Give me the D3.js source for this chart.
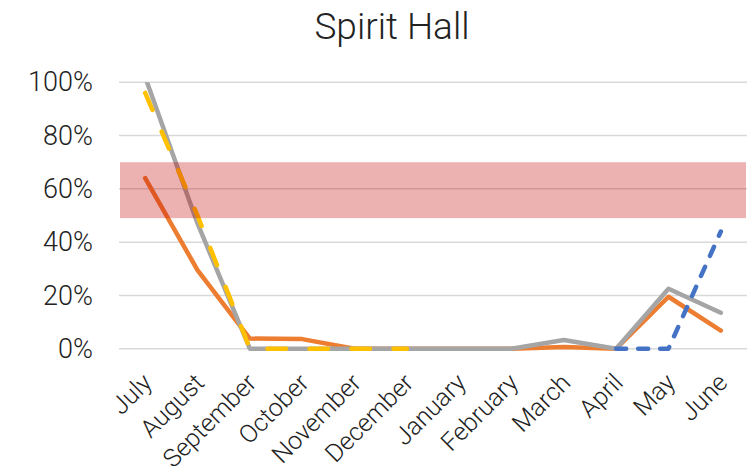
<!DOCTYPE html>
<html>
<head>
<meta charset="utf-8">
<script src="https://cdn.jsdelivr.net/npm/d3@7"></script>
<style>
  html, body { margin: 0; padding: 0; background: #fff; }
  svg { display: block; font-family: Roboto, "Noto Sans", sans-serif; }
</style>
</head>
<body>
<svg id="chart" width="756" height="474"></svg>
<script>
const title = "Spirit Hall";
const categories = ["July","August","September","October","November","December","January","February","March","April","May","June"];
const yTicks = [0, 0.2, 0.4, 0.6, 0.8, 1.0];
const bandLow = 0.49;
const bandHigh = 0.70;
// series (null = no point)
const seriesOrange = [0.64, 0.295, 0.038, 0.036, 0, 0, 0, 0, 0.006, 0, 0.195, 0.068];
const seriesGray   = [1.02, 0.47, 0, 0, 0, 0, 0, 0, 0.033, 0, 0.225, 0.135];
const seriesYellow = [0.96, 0.50, 0, 0, 0, 0, null, null, null, null, null, null];
const seriesBlue   = [null, null, null, null, null, null, null, null, null, 0, 0, 0.44];

const svg = d3.select("#chart");
const pLeft = 119, pRight = 747, pTop = 82.3, pBottom = 348.7;

const xb = d3.scaleBand().domain(categories).range([pLeft, pRight]);
const xc = c => xb(c) + xb.bandwidth() / 2;
const y = d3.scaleLinear().domain([0, 1]).range([pBottom, pTop]);

// title
svg.append("text")
  .attr("x", 392).attr("y", 39)
  .attr("text-anchor", "middle")
  .attr("font-size", 37).attr("font-weight", 300).attr("fill", "#222")
  .text(title);

// gridlines
svg.append("g").selectAll("line").data(yTicks).join("line")
  .attr("x1", pLeft).attr("x2", pRight)
  .attr("y1", d => y(d)).attr("y2", d => y(d))
  .attr("stroke", "#d9d9d9").attr("stroke-width", 1.5);

// y axis labels
const yAxis = d3.axisLeft(y).tickValues(yTicks).tickFormat(d3.format(".0%")).tickSize(0).tickPadding(0);
const gy = svg.append("g").attr("transform", `translate(93,0)`).call(yAxis);
gy.select(".domain").remove();
gy.selectAll("text").attr("font-size", 27).attr("font-weight", 300).attr("fill", "#222")
  .attr("font-family", "Roboto, sans-serif");

// x axis labels
const gx = svg.append("g");
gx.selectAll("text").data(categories).join("text")
  .attr("transform", d => `translate(${xc(d) + 2},378) rotate(-45)`)
  .attr("text-anchor", "end").attr("dy", "0.35em")
  .attr("font-size", 25).attr("font-weight", 300).attr("fill", "#222")
  .text(d => d);

// clip
svg.append("clipPath").attr("id", "plotclip").append("rect")
  .attr("x", pLeft - 10).attr("y", pTop).attr("width", pRight - pLeft + 20).attr("height", pBottom - pTop + 10);

const plot = svg.append("g").attr("clip-path", "url(#plotclip)");
const line = d3.line()
  .defined(d => d.v !== null)
  .x(d => xc(d.c)).y(d => y(d.v));
const mk = arr => arr.map((v, i) => ({c: categories[i], v: v}));

function drawLine(arr, color, dash) {
  plot.append("path").datum(mk(arr))
    .attr("d", line)
    .attr("fill", "none").attr("stroke", color).attr("stroke-width", 4.5)
    .attr("stroke-linejoin", "round").attr("stroke-linecap", "round")
    .attr("stroke-dasharray", dash || null);
}
drawLine(seriesOrange, "#ed7d31");
drawLine(seriesGray, "#a5a5a5");
drawLine(seriesYellow, "#ffc000", "18.5,23.5");
drawLine(seriesBlue, "#4472c4", "10,12");

// target band on top
svg.append("rect")
  .attr("x", pLeft + 1).attr("width", pRight - pLeft - 2)
  .attr("y", y(bandHigh)).attr("height", y(bandLow) - y(bandHigh))
  .attr("fill", "#c00000").attr("fill-opacity", 0.3);
</script>
</body>
</html>
